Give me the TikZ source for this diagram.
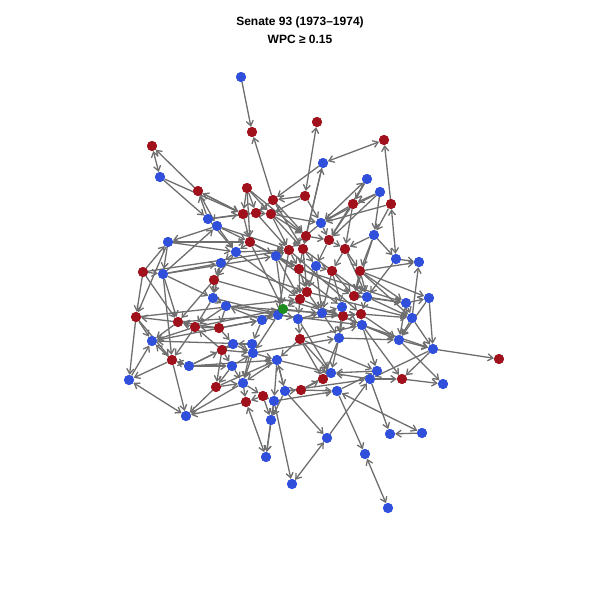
\documentclass[tikz,border=0pt]{standalone}
\usepackage{fontspec}
\usepackage{xcolor}
\usepackage{tikz}
\usetikzlibrary{arrows.meta}
\newfontfamily\titlefont{Liberation Sans}
\definecolor{repred}{HTML}{A0111C}
\definecolor{demblue}{HTML}{3050DC}
\definecolor{indgreen}{HTML}{1E8C1E}
\definecolor{edgegray}{HTML}{6E6E6E}

\begin{document}
\begin{tikzpicture}[x=1pt, y=-1pt]
        \tikzstyle{rep} = [circle, fill=repred, minimum size=10pt, inner sep=0pt]
        \tikzstyle{dem} = [circle, fill=demblue, minimum size=10pt, inner sep=0pt]
        \tikzstyle{ind} = [circle, fill=indgreen, minimum size=10pt, inner sep=0pt]
        \tikzstyle{line} = [draw=edgegray, line width=1.3pt, -{Straight Barb[length=5pt, width=7pt]}]
        \tikzstyle{both} = [draw=edgegray, line width=1.3pt, {Straight Barb[length=5pt, width=7pt]}-{Straight Barb[length=5pt, width=7pt]}]
        \tikzstyle{title} = [align=center, font=\titlefont\bfseries\fontsize{12}{18}\selectfont]

        \useasboundingbox (0,0) rectangle (600,600);
        \node [title] (title) at (300,30) {Senate 93 (1973–1974)\\WPC ≥ 0.15};

        % Republicans
        \node [rep] (r1) at (252,132) {};
        \node [rep] (r2) at (317,122) {};
        \node [rep] (r3) at (384,140) {};
        \node [rep] (r4) at (152,146) {};
        \node [rep] (r5) at (198,191) {};
        \node [rep] (r6) at (247,188) {};
        \node [rep] (r7) at (273,200) {};
        \node [rep] (r8) at (305,196) {};
        \node [rep] (r9) at (353,204) {};
        \node [rep] (r10) at (391,204) {};
        \node [rep] (r11) at (243,214) {};
        \node [rep] (r12) at (256,213) {};
        \node [rep] (r13) at (271,214) {};
        \node [rep] (r14) at (250,242) {};
        \node [rep] (r15) at (306,236) {};
        \node [rep] (r16) at (329,240) {};
        \node [rep] (r17) at (289,250) {};
        \node [rep] (r18) at (303,249) {};
        \node [rep] (r19) at (345,249) {};
        \node [rep] (r20) at (143,272) {};
        \node [rep] (r21) at (299,269) {};
        \node [rep] (r22) at (332,271) {};
        \node [rep] (r23) at (360,271) {};
        \node [rep] (r24) at (214,280) {};
        \node [rep] (r25) at (307,292) {};
        \node [rep] (r26) at (300,299) {};
        \node [rep] (r27) at (354,296) {};
        \node [rep] (r28) at (343,316) {};
        \node [rep] (r29) at (361,314) {};
        \node [rep] (r30) at (136,317) {};
        \node [rep] (r31) at (178,322) {};
        \node [rep] (r32) at (195,327) {};
        \node [rep] (r33) at (219,328) {};
        \node [rep] (r34) at (222,350) {};
        \node [rep] (r35) at (300,339) {};
        \node [rep] (r36) at (172,360) {};
        \node [rep] (r37) at (216,387) {};
        \node [rep] (r38) at (263,396) {};
        \node [rep] (r39) at (246,402) {};
        \node [rep] (r40) at (323,379) {};
        \node [rep] (r41) at (301,390) {};
        \node [rep] (r42) at (402,379) {};
        \node [rep] (r43) at (499,359) {};

        % Democrats
        \node [dem] (d1) at (241,77) {};
        \node [dem] (d2) at (323,163) {};
        \node [dem] (d3) at (160,177) {};
        \node [dem] (d4) at (367,179) {};
        \node [dem] (d5) at (380,192) {};
        \node [dem] (d6) at (208,219) {};
        \node [dem] (d7) at (217,226) {};
        \node [dem] (d8) at (321,223) {};
        \node [dem] (d9) at (374,235) {};
        \node [dem] (d10) at (168,242) {};
        \node [dem] (d11) at (236,252) {};
        \node [dem] (d12) at (276,256) {};
        \node [dem] (d13) at (163,274) {};
        \node [dem] (d14) at (221,263) {};
        \node [dem] (d15) at (316,266) {};
        \node [dem] (d16) at (396,259) {};
        \node [dem] (d17) at (419,262) {};
        \node [dem] (d18) at (213,298) {};
        \node [dem] (d19) at (226,306) {};
        \node [dem] (d20) at (262,320) {};
        \node [dem] (d21) at (278,315) {};
        \node [dem] (d22) at (298,319) {};
        \node [dem] (d23) at (322,313) {};
        \node [dem] (d24) at (342,307) {};
        \node [dem] (d25) at (367,297) {};
        \node [dem] (d26) at (406,303) {};
        \node [dem] (d27) at (429,298) {};
        \node [dem] (d28) at (412,318) {};
        \node [dem] (d29) at (362,325) {};
        \node [dem] (d30) at (339,338) {};
        \node [dem] (d31) at (399,340) {};
        \node [dem] (d32) at (433,349) {};
        \node [dem] (d33) at (152,341) {};
        \node [dem] (d34) at (233,344) {};
        \node [dem] (d35) at (252,344) {};
        \node [dem] (d36) at (253,353) {};
        \node [dem] (d37) at (277,360) {};
        \node [dem] (d38) at (189,366) {};
        \node [dem] (d39) at (129,380) {};
        \node [dem] (d40) at (232,366) {};
        \node [dem] (d41) at (243,383) {};
        \node [dem] (d42) at (274,401) {};
        \node [dem] (d43) at (285,391) {};
        \node [dem] (d44) at (331,373) {};
        \node [dem] (d45) at (377,371) {};
        \node [dem] (d46) at (370,379) {};
        \node [dem] (d47) at (337,391) {};
        \node [dem] (d48) at (443,384) {};
        \node [dem] (d49) at (271,420) {};
        \node [dem] (d50) at (186,416) {};
        \node [dem] (d51) at (266,457) {};
        \node [dem] (d52) at (327,438) {};
        \node [dem] (d53) at (390,434) {};
        \node [dem] (d54) at (422,433) {};
        \node [dem] (d55) at (365,454) {};
        \node [dem] (d56) at (292,484) {};
        \node [dem] (d57) at (388,508) {};

        % Independent
        \node [ind] (i1) at (283,309) {};

        % outer ties
        \path [line] (d1) -- (r1);
        \path [line] (r7) -- (r1);
        \path [both] (r4) -- (d3);
        \path [line] (r5) -- (r4);
        \path [line] (d3) -- (d6);
        \path [line] (r11) -- (r5);
        \path [line] (d6) -- (r5);
        \path [both] (r8) -- (r2);
        \path [both] (r3) -- (d2);
        \path [line] (r10) -- (r3);
        \path [line] (r15) -- (d2);
        \path [line] (d2) -- (r7);
        \path [line] (r8) -- (r7);
        \path [both] (d8) -- (d4);
        \path [both] (r10) -- (d16);
        \path [line] (d16) -- (d17);
        \path [line] (r23) -- (d17);
        \path [line] (d28) -- (d17);
        \path [line] (r23) -- (d27);
        \path [line] (d26) -- (d27);
        \path [line] (d27) -- (d32);
        \path [line] (d32) -- (r43);
        \path [line] (d32) -- (r42);
        \path [line] (r42) -- (d48);
        \path [line] (d31) -- (d48);
        \path [line] (d31) -- (d32);
        \path [line] (d29) -- (d32);
        \path [line] (r29) -- (d28);
        \path [line] (d25) -- (d28);
        \path [line] (d28) -- (d31);
        \path [line] (d32) -- (d46);
        \path [both] (d52) -- (d56);
        \path [line] (d52) -- (d46);
        \path [both] (d55) -- (d57);
        \path [both] (d47) -- (d54);
        \path [line] (d46) -- (d53);
        \path [line] (d54) -- (d53);
        \path [line] (d47) -- (d55);
        \path [line] (d46) -- (d44);
        \path [line] (d45) -- (d44);
        \path [line] (d46) -- (r42);
        \path [line] (d30) -- (d44);
        \path [line] (r41) -- (d44);
        \path [line] (r35) -- (r40);
        \path [line] (d43) -- (d37);
        \path [line] (d42) -- (d56);
        \path [line] (d43) -- (d52);
        \path [both] (d39) -- (d50);
        \path [line] (r36) -- (d39);
        \path [line] (r30) -- (d39);
        \path [line] (d39) -- (d33);
        \path [line] (r36) -- (d50);
        \path [line] (r39) -- (d50);
        \path [line] (d38) -- (r36);
        \path [line] (r36) -- (d33);
        \path [line] (d38) -- (r34);
        \path [line] (r37) -- (d37);
        \path [both] (r39) -- (d51);
        \path [line] (d42) -- (d51);
        \path [line] (d7) -- (d10);
        \path [line] (d13) -- (d7);
        \path [line] (d10) -- (r30);
        \path [line] (d10) -- (d13);
        \path [line] (d13) -- (d14);
        \path [line] (d13) -- (r31);
        \path [line] (d13) -- (r36);
        \path [line] (r20) -- (r31);
        \path [line] (r31) -- (r30);
        \path [line] (r30) -- (d33);
        \path [line] (r31) -- (d33);
        \path [line] (r33) -- (r31);
        \path [line] (r24) -- (r31);
        \path [line] (d5) -- (r9);
        \path [line] (d5) -- (d8);
        \path [line] (r9) -- (d8);
        \path [line] (r6) -- (r12);
        \path [line] (r6) -- (r13);
        \path [line] (d6) -- (r11);
        \path [line] (d5) -- (d9);
        \path [line] (r10) -- (d8);
        \path [line] (d9) -- (r19);
        \path [line] (d35) -- (d33);
        \path [line] (d38) -- (d37);

        % core ties
        \path [line] (r6) -- (r11);
        \path [line] (r6) -- (r14);
        \path [line] (r7) -- (r12);
        \path [line] (r7) -- (r15);
        \path [line] (r8) -- (r13);
        \path [line] (r8) -- (d8);
        \path [line] (r12) -- (r13);
        \path [line] (r11) -- (r12);
        \path [line] (r13) -- (d8);
        \path [line] (r12) -- (r17);
        \path [line] (r11) -- (r14);
        \path [line] (d7) -- (r14);
        \path [line] (d6) -- (d11);
        \path [line] (d7) -- (d11);
        \path [line] (r14) -- (d11);
        \path [line] (r14) -- (d12);
        \path [line] (r13) -- (r17);
        \path [line] (r13) -- (r18);
        \path [line] (r15) -- (r18);
        \path [line] (r15) -- (r16);
        \path [line] (r9) -- (r16);
        \path [line] (d8) -- (r16);
        \path [line] (r16) -- (r19);
        \path [line] (r9) -- (r19);
        \path [line] (d9) -- (r23);
        \path [line] (r19) -- (r23);
        \path [line] (r19) -- (r22);
        \path [line] (r16) -- (d15);
        \path [line] (r18) -- (d15);
        \path [line] (r17) -- (r21);
        \path [line] (r18) -- (r21);
        \path [line] (d12) -- (r17);
        \path [line] (d11) -- (d14);
        \path [line] (d14) -- (r24);
        \path [line] (d11) -- (r24);
        \path [line] (r24) -- (d18);
        \path [line] (d18) -- (d19);
        \path [line] (d14) -- (d18);
        \path [line] (r14) -- (r21);
        \path [line] (d12) -- (r21);
        \path [line] (r21) -- (r25);
        \path [line] (r21) -- (r26);
        \path [line] (d15) -- (r22);
        \path [line] (r22) -- (r27);
        \path [line] (r22) -- (d24);
        \path [line] (r23) -- (r27);
        \path [line] (r23) -- (d25);
        \path [line] (d15) -- (r25);
        \path [line] (r25) -- (r26);
        \path [line] (r26) -- (i1);
        \path [line] (i1) -- (d21);
        \path [line] (r26) -- (d22);
        \path [line] (r25) -- (d23);
        \path [line] (d22) -- (d23);
        \path [line] (d23) -- (d24);
        \path [line] (d24) -- (r28);
        \path [line] (r27) -- (d25);
        \path [line] (d25) -- (r29);
        \path [line] (r28) -- (r29);
        \path [line] (r29) -- (d29);
        \path [line] (r28) -- (d29);
        \path [line] (d24) -- (d30);
        \path [line] (d23) -- (d30);
        \path [line] (r28) -- (d30);
        \path [line] (d29) -- (d31);
        \path [line] (d25) -- (d26);
        \path [line] (d26) -- (d28);
        \path [line] (r27) -- (d26);
        \path [line] (d21) -- (d20);
        \path [line] (d20) -- (d19);
        \path [line] (d19) -- (r33);
        \path [line] (r33) -- (d34);
        \path [line] (d20) -- (d35);
        \path [line] (d21) -- (d36);
        \path [line] (d22) -- (r35);
        \path [line] (r35) -- (d37);
        \path [line] (d36) -- (d37);
        \path [line] (d35) -- (d34);
        \path [line] (d34) -- (r34);
        \path [line] (r34) -- (d40);
        \path [line] (d40) -- (d41);
        \path [line] (d41) -- (r38);
        \path [line] (r38) -- (d42);
        \path [line] (r38) -- (r39);
        \path [line] (d41) -- (r39);
        \path [line] (d37) -- (d43);
        \path [line] (d43) -- (r41);
        \path [line] (r41) -- (r40);
        \path [line] (d44) -- (r40);
        \path [line] (d30) -- (r40);
        \path [line] (d29) -- (d45);
        \path [line] (d45) -- (d46);
        \path [line] (d22) -- (d44);
        \path [line] (r35) -- (d44);
        \path [line] (d37) -- (d42);
        \path [line] (d42) -- (d49);
        \path [line] (d49) -- (d51);
        \path [line] (r38) -- (d49);
        \path [line] (d43) -- (d49);
        \path [line] (r32) -- (r31);
        \path [line] (r33) -- (r32);
        \path [line] (d18) -- (r32);
        \path [line] (d19) -- (r32);
        \path [line] (r20) -- (d13);
        \path [line] (r20) -- (d10);
        \path [line] (d10) -- (r14);
        \path [line] (d10) -- (d11);
        \path [line] (d13) -- (d18);
        \path [line] (r32) -- (d33);
        \path [line] (r32) -- (r36);
        \path [line] (r34) -- (r32);
        \path [line] (d38) -- (d40);
        \path [line] (d40) -- (r37);
        \path [line] (r37) -- (d41);
        \path [line] (r37) -- (d50);
        \path [line] (d41) -- (d50);
        \path [line] (r34) -- (r37);
        \path [line] (d35) -- (d41);
        \path [line] (d36) -- (d41);
        \path [line] (d37) -- (d41);

        % long ties across the core
        \path [line] (r20) -- (r17);
        \path [line] (d13) -- (d12);
        \path [line] (r30) -- (r26);
        \path [line] (d33) -- (d20);
        \path [line] (r31) -- (d21);
        \path [line] (r32) -- (i1);
        \path [line] (d18) -- (d22);
        \path [line] (d14) -- (r25);
        \path [line] (d11) -- (r26);
        \path [line] (r24) -- (r28);
        \path [line] (d19) -- (d23);
        \path [line] (r14) -- (r27);
        \path [line] (d12) -- (d24);
        \path [line] (r17) -- (r29);
        \path [line] (r21) -- (d26);
        \path [line] (r18) -- (d25);
        \path [line] (r25) -- (d28);
        \path [line] (r26) -- (d31);
        \path [line] (d21) -- (d29);
        \path [line] (i1) -- (r28);
        \path [line] (d22) -- (r29);
        \path [line] (r35) -- (d29);
        \path [line] (r35) -- (d45);
        \path [line] (d36) -- (d30);
        \path [line] (d37) -- (d44);
        \path [line] (d43) -- (d46);
        \path [line] (r41) -- (d47);
        \path [line] (d42) -- (d47);
        \path [line] (d47) -- (d45);
        \path [line] (d30) -- (d31);
        \path [line] (r29) -- (d31);
        \path [line] (d29) -- (r42);
        \path [line] (d28) -- (d32);
        \path [line] (d26) -- (d31);
        \path [line] (r23) -- (d28);
        \path [line] (d16) -- (d25);
        \path [line] (r23) -- (d26);
        \path [line] (r19) -- (d25);
        \path [line] (r22) -- (d23);
        \path [line] (d15) -- (d23);
        \path [line] (r7) -- (r18);
        \path [line] (r6) -- (r15);
        \path [line] (d6) -- (r12);
        \path [line] (r5) -- (r11);
        \path [line] (d3) -- (r11);
        \path [line] (r5) -- (d7);
        \path [line] (d8) -- (r17);
        \path [line] (d2) -- (r18);
        \path [line] (d4) -- (r9);
        \path [line] (d4) -- (r16);
        \path [line] (d5) -- (r16);
        \path [line] (d9) -- (r27);
        \path [line] (d9) -- (d16);
        \path [line] (r10) -- (d9);
        \path [line] (r13) -- (r15);
        \path [line] (d7) -- (r17);
        \path [line] (d11) -- (r17);
        \path [line] (r14) -- (i1);
        \path [line] (r17) -- (d21);
        \path [line] (r18) -- (r25);
        \path [line] (d12) -- (r26);
        \path [line] (d12) -- (i1);
        \path [line] (d20) -- (i1);
        \path [line] (d19) -- (d21);
        \path [line] (r33) -- (d20);
        \path [line] (d34) -- (d36);
        \path [line] (r34) -- (d36);
        \path [line] (d40) -- (d36);
        \path [line] (d38) -- (d34);
        \path [line] (r36) -- (d38);
        \path [line] (r30) -- (r36);
        \path [line] (r20) -- (r30);
        \path [line] (d27) -- (d31);

        % nodes back on top of the ties
        \foreach \n in {r1,r2,r3,r4,r5,r6,r7,r8,r9,r10,r11,r12,r13,r14,r15,r16,r17,r18,r19,r20,r21,r22,r23,r24,r25,r26,r27,r28,r29,r30,r31,r32,r33,r34,r35,r36,r37,r38,r39,r40,r41,r42,r43}
            \fill [repred] (\n) circle (5pt);
        \foreach \n in {d1,d2,d3,d4,d5,d6,d7,d8,d9,d10,d11,d12,d13,d14,d15,d16,d17,d18,d19,d20,d21,d22,d23,d24,d25,d26,d27,d28,d29,d30,d31,d32,d33,d34,d35,d36,d37,d38,d39,d40,d41,d42,d43,d44,d45,d46,d47,d48,d49,d50,d51,d52,d53,d54,d55,d56,d57}
            \fill [demblue] (\n) circle (5pt);
        \fill [indgreen] (i1) circle (5pt);
    \end{tikzpicture}
\end{document}
